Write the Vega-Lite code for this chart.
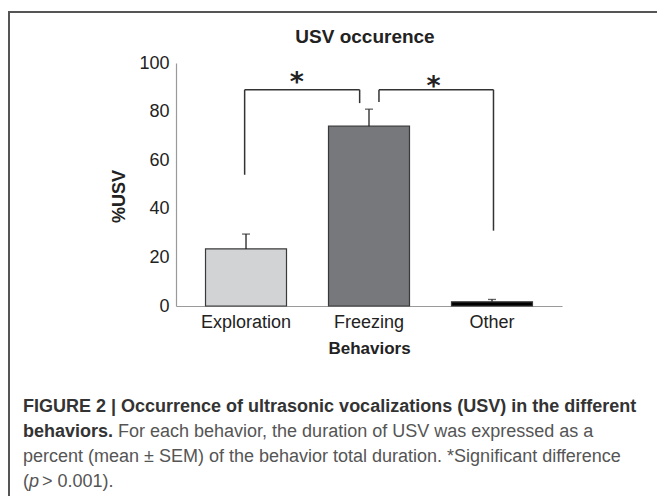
{
  "$schema": "https://vega.github.io/schema/vega-lite/v6.json",
  "width": 386,
  "height": 243,
  "autosize": {"type": "none"},
  "padding": {"left": 176, "top": 63, "right": 95, "bottom": 190},
  "background": "white",
  "config": {"view": {"stroke": null}, "font": "Liberation Sans"},
  "layer": [
    {
      "layer": [
        {
          "data": {"values": [
            {"behavior": "Exploration", "mean": 23.5, "upper": 29.6},
            {"behavior": "Freezing", "mean": 74, "upper": 81},
            {"behavior": "Other", "mean": 1.7, "upper": 2.7}
          ]},
          "encoding": {
            "x": {"field": "behavior", "type": "nominal", "sort": null,
              "scale": {"paddingInner": 0.3415, "paddingOuter": 0.24},
              "axis": {"title": "Behaviors", "labelAngle": 0, "ticks": false, "domainColor": "#9a9a9a", "domainWidth": 1.2,
                "labelFont": "Liberation Sans", "labelFontSize": 18, "labelColor": "#222", "labelPadding": 7,
                "titleFont": "Liberation Sans", "titleFontSize": 17, "titleFontWeight": "bold", "titleColor": "#222", "titlePadding": 9}}
          },
          "layer": [
            {"mark": {"type": "bar", "stroke": "#3a3a3a", "strokeWidth": 1.2},
             "encoding": {
               "y": {"field": "mean", "type": "quantitative", "title": "%USV",
                 "scale": {"domain": [0, 100], "nice": false},
                 "axis": {"title": "%USV", "values": [0, 20, 40, 60, 80, 100], "ticks": false, "grid": false, "domainColor": "#9a9a9a", "domainWidth": 1.2,
                   "labelFont": "Liberation Sans", "labelFontSize": 18, "labelColor": "#222", "labelPadding": 7,
                   "titleFont": "Liberation Sans", "titleFontSize": 18, "titleFontWeight": "bold", "titleColor": "#222", "titlePadding": 10, "titleY": 133}},
               "fill": {"field": "behavior", "type": "nominal", "scale": {"domain": ["Exploration", "Freezing", "Other"], "range": ["#d1d3d4", "#77787b", "#000000"]}, "legend": null}
             }},
            {"mark": {"type": "rule", "color": "#222", "strokeWidth": 1.3},
             "encoding": {"y": {"field": "mean", "type": "quantitative", "title": "%USV"}, "y2": {"field": "upper"}}},
            {"mark": {"type": "tick", "color": "#222", "thickness": 1.3, "size": 8},
             "encoding": {"y": {"field": "upper", "type": "quantitative", "title": "%USV"}}}
          ]
        },
        {
          "layer": [
            {
              "data": {"values": [
                {"x0": -0.015, "x1": -0.015, "y0": 54, "y1": 89},
                {"x0": -0.015, "x1": 0.92, "y0": 89, "y1": 89},
                {"x0": 0.92, "x1": 0.92, "y0": 89, "y1": 83.5},
                {"x0": 1.077, "x1": 1.077, "y0": 84, "y1": 89},
                {"x0": 1.077, "x1": 2.008, "y0": 89, "y1": 89},
                {"x0": 2.008, "x1": 2.008, "y0": 89, "y1": 31}
              ]},
              "mark": {"type": "rule", "color": "#333", "strokeWidth": 1.5},
              "encoding": {
                "x": {"field": "x0", "type": "quantitative", "scale": {"domain": [-0.573, 2.565], "nice": false, "zero": false}, "axis": null},
                "x2": {"field": "x1"},
                "y": {"field": "y0", "type": "quantitative", "title": "%USV", "scale": {"domain": [0, 100], "nice": false}},
                "y2": {"field": "y1"}
              }
            },
            {
              "data": {"values": [
                {"pos": 0.41, "level": 88.5, "label": "*"},
                {"pos": 1.52, "level": 87.0, "label": "*"}
              ]},
              "mark": {"type": "text", "font": "DejaVu Sans", "fontWeight": "bold", "fontSize": 27, "baseline": "alphabetic", "align": "center", "color": "#222"},
              "encoding": {
                "x": {"field": "pos", "type": "quantitative", "scale": {"domain": [-0.573, 2.565], "nice": false, "zero": false}, "axis": null},
                "y": {"field": "level", "type": "quantitative", "title": "%USV", "scale": {"domain": [0, 100], "nice": false}},
                "text": {"field": "label"}
              }
            }
          ]
        }
      ],
      "resolve": {"scale": {"x": "independent"}, "axis": {"x": "independent"}}
    },
    {
      "layer": [
        {
          "data": {"values": [
            {"line": 1, "text": "FIGURE 2 | Occurrence of ultrasonic vocalizations (USV) in the different"},
            {"line": 2, "text": "behaviors."}
          ]},
          "mark": {"type": "text", "align": "left", "baseline": "middle", "font": "Liberation Sans", "fontWeight": "bold", "fontSize": 18, "color": "#333"},
          "encoding": {
            "x": {"datum": 23, "type": "quantitative", "scale": {"domain": [0, 657], "range": [-176, 481], "nice": false, "zero": false}, "axis": null},
            "y": {"field": "line", "type": "quantitative", "scale": {"domain": [1, 4], "range": [344, 419], "nice": false, "zero": false}, "axis": null},
            "text": {"field": "text"}
          }
        },
        {
          "data": {"values": [
            {"line": 3, "text": "percent (mean ± SEM) of the behavior total duration. *Significant difference"},
            {"line": 4, "text": "("}
          ]},
          "mark": {"type": "text", "align": "left", "baseline": "middle", "font": "Liberation Sans", "fontSize": 18, "color": "#555"},
          "encoding": {
            "x": {"datum": 23, "type": "quantitative", "scale": {"domain": [0, 657], "range": [-176, 481], "nice": false, "zero": false}, "axis": null},
            "y": {"field": "line", "type": "quantitative", "scale": {"domain": [1, 4], "range": [344, 419], "nice": false, "zero": false}, "axis": null},
            "text": {"field": "text"}
          }
        },
        {
          "data": {"values": [
            {"line": 2, "text": "For each behavior, the duration of USV was expressed as a"}
          ]},
          "mark": {"type": "text", "align": "left", "baseline": "middle", "font": "Liberation Sans", "fontSize": 18, "color": "#555"},
          "encoding": {
            "x": {"datum": 118, "type": "quantitative", "scale": {"domain": [0, 657], "range": [-176, 481], "nice": false, "zero": false}, "axis": null},
            "y": {"field": "line", "type": "quantitative", "scale": {"domain": [1, 4], "range": [344, 419], "nice": false, "zero": false}, "axis": null},
            "text": {"field": "text"}
          }
        },
        {
          "data": {"values": [
            {"line": 4, "text": "p"}
          ]},
          "mark": {"type": "text", "align": "left", "baseline": "middle", "font": "Liberation Sans", "fontStyle": "italic", "fontSize": 18, "color": "#555"},
          "encoding": {
            "x": {"datum": 29, "type": "quantitative", "scale": {"domain": [0, 657], "range": [-176, 481], "nice": false, "zero": false}, "axis": null},
            "y": {"field": "line", "type": "quantitative", "scale": {"domain": [1, 4], "range": [344, 419], "nice": false, "zero": false}, "axis": null},
            "text": {"field": "text"}
          }
        },
        {
          "data": {"values": [
            {"line": 4, "text": "> 0.001)."}
          ]},
          "mark": {"type": "text", "align": "left", "baseline": "middle", "font": "Liberation Sans", "fontSize": 18, "color": "#555"},
          "encoding": {
            "x": {"datum": 42, "type": "quantitative", "scale": {"domain": [0, 657], "range": [-176, 481], "nice": false, "zero": false}, "axis": null},
            "y": {"field": "line", "type": "quantitative", "scale": {"domain": [1, 4], "range": [344, 419], "nice": false, "zero": false}, "axis": null},
            "text": {"field": "text"}
          }
        }
      ]
    },
    {
      "data": {"values": [{"title": "USV occurence"}]},
      "layer": [
        {
          "mark": {"type": "rule", "color": "#555", "strokeWidth": 2},
          "encoding": {
            "x": {"datum": 9, "type": "quantitative", "scale": {"domain": [0, 657], "range": [-176, 481], "nice": false, "zero": false}, "axis": null},
            "x2": {"datum": 657},
            "y": {"datum": 12, "type": "quantitative", "scale": {"domain": [0, 496], "range": [-63, 433], "nice": false, "zero": false}, "axis": null}
          }
        },
        {
          "mark": {"type": "rule", "color": "#555", "strokeWidth": 2},
          "encoding": {
            "x": {"datum": 9, "type": "quantitative", "scale": {"domain": [0, 657], "range": [-176, 481], "nice": false, "zero": false}, "axis": null},
            "y": {"datum": 11, "type": "quantitative", "scale": {"domain": [0, 496], "range": [-63, 433], "nice": false, "zero": false}, "axis": null},
            "y2": {"datum": 496}
          }
        },
        {
          "mark": {"type": "text", "align": "center", "baseline": "middle", "font": "Liberation Sans", "fontWeight": "bold", "fontSize": 19, "color": "#222"},
          "encoding": {
            "x": {"datum": 365, "type": "quantitative", "scale": {"domain": [0, 657], "range": [-176, 481], "nice": false, "zero": false}, "axis": null},
            "y": {"datum": 37, "type": "quantitative", "scale": {"domain": [0, 496], "range": [-63, 433], "nice": false, "zero": false}, "axis": null},
            "text": {"field": "title"}
          }
        }
      ]
    }
  ],
  "resolve": {"scale": {"x": "independent", "y": "independent"}, "axis": {"x": "independent", "y": "independent"}}
}
